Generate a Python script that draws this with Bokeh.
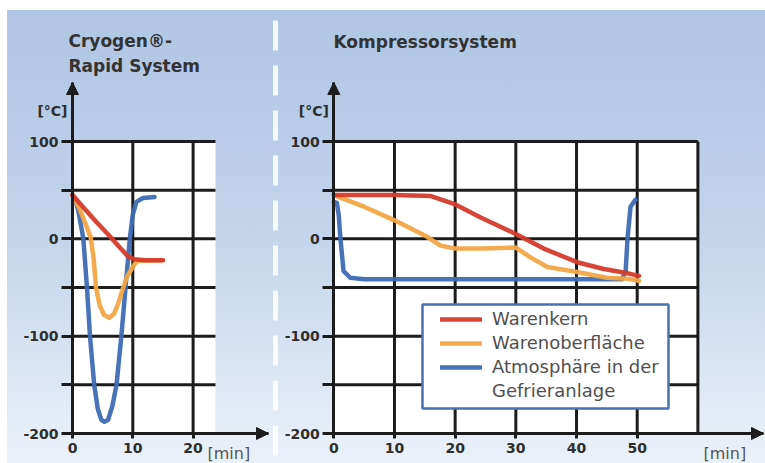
from bokeh.plotting import figure
from bokeh.layouts import row
from bokeh.models import (FixedTicker, Arrow, NormalHead, Label, Span, Legend, LegendItem,
                          BoxAnnotation)
from bokeh.embed import file_html
from bokeh.resources import INLINE

# ---------------- data ----------------
# Cryogen-Rapid System
cryo_kern_t = [0, 2, 4, 6, 8, 9.2, 10.3, 12, 15]
cryo_kern = [45, 31, 17, 4, -10, -18, -21, -22, -22]

cryo_ober_t = [0, 1, 2, 3, 3.5, 3.9, 4.5, 5.2, 6.1, 6.9, 7.6, 8.4, 9.1, 9.8, 10.4, 11, 15]
cryo_ober = [45, 33, 18, 2, -20, -50, -68, -78, -81, -77, -66, -50, -38, -31, -25, -22.5, -22]

cryo_atmo_t = [0, 0.5, 1.0, 1.4, 1.8, 2.4, 2.9, 3.6, 4.2, 4.8, 5.3, 5.9, 6.6, 7.3, 8.1, 8.8, 9.5, 10.0, 10.6, 11.7, 13.6]
cryo_atmo = [45, 40, 28, 14, 0, -50, -100, -150, -175, -186, -188, -186, -172, -150, -100, -50, 0, 25, 38, 42, 43]

# Kompressorsystem
komp_kern_t = [0, 10, 16, 19.8, 24.2, 30, 34.6, 40.1, 44.5, 47.8, 50.3]
komp_kern = [45, 45, 44, 36, 22, 5, -10, -24, -31, -34.5, -38]

komp_ober_t = [0, 5, 10, 15, 17.6, 20, 24.2, 30, 32.4, 35.2, 40.1, 45, 48.5, 50.3]
komp_ober = [45, 33, 19, 3.5, -7, -10, -10, -9, -19, -29, -34, -40, -41, -43]

komp_atmo_t = [0, 0.5, 0.8, 1.1, 1.6, 2.7, 5, 47.5, 48.1, 48.4, 48.9, 49.7]
komp_atmo = [38, 37, 25, 0, -33, -40, -41.5, -41.5, -33, 0, 33, 40]

# axis / grid values
cryo_x_ticks = [0, 10, 20]
cryo_x_grid = [10, 20]
komp_x_ticks = [0, 10, 20, 30, 40, 50]
komp_x_grid = [10, 20, 30, 40, 50, 60]
y_major = [-200, -100, 0, 100]
y_minor = [-150, -50, 50]
y_grid = [-200, -150, -100, -50, 0, 50, 100]

series_names = ["Warenkern", "Warenoberfläche", "Atmosphäre in der", "Gefrieranlage"]
titles_cryo = ["Cryogen®-", "Rapid System"]
title_komp = "Kompressorsystem"
unit_y = "[°C]"
unit_x = "[min]"

# ---------------- style / layout ----------------
FONT = "DejaVu Sans"
INK = "#1c1c1c"
TXT = "#2e2e2e"
RED = "#d63a2a"
ORANGE = "#f3a545"
BLUE = "#3d6cb4"
H = 463
AXIS_Y = 433          # screen row of the -200 line
PX_Y = 0.9733         # px per degree


def yd(sy):
    """screen row -> degrees"""
    return -200 + (AXIS_Y - sy) / PX_Y


class Panel:
    def __init__(self, left, width, axis_x, px_x):
        self.left, self.width, self.axis_x, self.px_x = left, width, axis_x, px_x

    def xd(self, sx):
        """screen column -> minutes"""
        return (sx - self.axis_x) / self.px_x


def panel(pn, x_ticks, x_grid, grid_end, arrow_tip_sx):
    p = figure(width=pn.width, height=H,
               x_range=(pn.xd(pn.left), pn.xd(pn.left + pn.width)),
               y_range=(yd(H), yd(0)),
               output_backend="svg", toolbar_location=None,
               min_border_left=0, min_border_right=0, min_border_top=0, min_border_bottom=0)
    p.border_fill_alpha = 0
    p.background_fill_alpha = 0
    p.outline_line_color = None
    p.xgrid.visible = False
    p.ygrid.visible = False

    # white chart area and grid
    p.quad(left=[x_ticks[0]], right=[grid_end], bottom=[y_grid[0]], top=[y_grid[-1]],
           fill_color="white", line_color=None)
    p.segment(x0=[x_ticks[0]] * len(y_grid), y0=y_grid, x1=[grid_end] * len(y_grid), y1=y_grid,
              line_color=INK, line_width=3)
    p.segment(x0=x_grid, y0=[y_grid[0]] * len(x_grid), x1=x_grid, y1=[y_grid[-1]] * len(x_grid),
              line_color=INK, line_width=3)

    tip_x = pn.xd(arrow_tip_sx)
    tip_y = yd(82)

    # y axis
    ya = p.yaxis[0]
    ya.fixed_location = 0
    ya.ticker = FixedTicker(ticks=y_major, minor_ticks=y_minor)
    ya.major_label_overrides = {v: str(v) for v in y_major}   # plain hyphen-minus
    ya.bounds = (y_grid[0], tip_y)
    ya.axis_line_width = 3
    ya.axis_line_color = INK
    ya.major_tick_out = 11
    ya.major_tick_in = 0
    ya.minor_tick_out = 11
    ya.minor_tick_in = 0
    ya.major_tick_line_width = 3
    ya.minor_tick_line_width = 3
    ya.major_tick_line_color = INK
    ya.minor_tick_line_color = INK
    ya.major_label_standoff = 3
    ya.major_label_text_font = FONT
    ya.major_label_text_font_style = "bold"
    ya.major_label_text_font_size = "14px"
    ya.major_label_text_color = TXT

    # x axis
    xa = p.xaxis[0]
    xa.fixed_location = y_grid[0]
    xa.ticker = FixedTicker(ticks=x_ticks)
    xa.bounds = (x_ticks[0], tip_x)
    xa.axis_line_width = 3
    xa.axis_line_color = INK
    xa.major_tick_out = 5
    xa.major_tick_in = 0
    xa.major_tick_line_width = 3
    xa.major_tick_line_color = INK
    xa.minor_tick_line_color = None
    xa.major_label_standoff = 4
    xa.major_label_text_font = FONT
    xa.major_label_text_font_style = "bold"
    xa.major_label_text_font_size = "14px"
    xa.major_label_text_color = TXT

    # arrow heads
    head = dict(size=12, fill_color=INK, line_color=INK)
    p.add_layout(Arrow(end=NormalHead(**head), x_start=0, y_start=tip_y - 12, x_end=0, y_end=tip_y,
                       line_color=INK, line_width=3))
    p.add_layout(Arrow(end=NormalHead(**head), x_start=tip_x - 2, y_start=y_grid[0], x_end=tip_x,
                       y_end=y_grid[0], line_color=INK, line_width=3))

    # unit label of the y axis
    p.add_layout(Label(x=0, y=yd(110), x_offset=-5, text=unit_y, text_align="right",
                       text_baseline="middle", text_font=FONT, text_font_style="bold",
                       text_font_size="14px", text_color=TXT))
    return p


P1 = Panel(left=0, width=280, axis_x=72, px_x=6.03)
P2 = Panel(left=280, width=485, axis_x=333.3, px_x=6.068)

p1 = panel(P1, cryo_x_ticks, cryo_x_grid, P1.xd(215), 268)
p2 = panel(P2, komp_x_ticks, komp_x_grid, komp_x_grid[-1], 763)

# x unit labels
for pp, pn, sx in [(p1, P1, 207), (p2, P2, 703)]:
    pp.add_layout(Label(x=pn.xd(sx), y=yd(453), text=unit_x, text_align="left",
                        text_baseline="middle", text_font=FONT, text_font_size="16px",
                        text_color="#555555"))

# titles
for txt, sy in zip(titles_cryo, [40.5, 65]):
    p1.add_layout(Label(x=P1.xd(68), y=yd(sy), text=txt, text_align="left",
                        text_baseline="alphabetic", text_font=FONT, text_font_style="bold",
                        text_font_size="17px", text_color="#333333"))
p2.add_layout(Label(x=P2.xd(333), y=yd(41.5), text=title_komp, text_align="left",
                    text_baseline="alphabetic", text_font=FONT, text_font_style="bold",
                    text_font_size="17px", text_color="#333333"))

# dashed white divider
p1.add_layout(Span(location=P1.xd(275), dimension="height", line_color="white", line_width=5,
                   line_alpha=0.85, line_dash="30 15", line_dash_offset=25))

# curves
kw = dict(line_width=4.5, line_alpha=0.95, line_cap="round", line_join="round")
p1.line(cryo_atmo_t, cryo_atmo, line_color=BLUE, **kw)
p1.line(cryo_ober_t, cryo_ober, line_color=ORANGE, **kw)
p1.line(cryo_kern_t, cryo_kern, line_color=RED, **kw)

r_atmo = p2.line(komp_atmo_t, komp_atmo, line_color=BLUE, **kw)
r_ober = p2.line(komp_ober_t, komp_ober, line_color=ORANGE, **kw)
r_kern = p2.line(komp_kern_t, komp_kern, line_color=RED, **kw)
r_none = p2.line([], [], line_alpha=0)

# legend frame + legend
p2.add_layout(BoxAnnotation(left=P2.xd(422), right=P2.xd(668), top=yd(304), bottom=yd(408),
                            fill_color="white", fill_alpha=1, line_color="#4a70b0",
                            line_width=2.5, line_alpha=1))
legend = Legend(items=[LegendItem(label=series_names[0], renderers=[r_kern]),
                       LegendItem(label=series_names[1], renderers=[r_ober]),
                       LegendItem(label=series_names[2], renderers=[r_atmo]),
                       LegendItem(label=series_names[3], renderers=[r_none])],
                location=(440 - P2.left, H - 401), padding=0, spacing=3, margin=0,
                glyph_width=42, glyph_height=20, label_height=20, label_standoff=10,
                label_text_font=FONT, label_text_font_size="18px", label_text_color="#505050",
                border_line_color=None, background_fill_alpha=0)
p2.add_layout(legend)

layout = row(p1, p2, spacing=0, styles={
    "background": "linear-gradient(to right, #ffffff 0px, #ffffff 7px, rgba(255,255,255,0) 7px), "
                  "linear-gradient(to bottom, #ffffff 0px, #ffffff 10px, #b1c6e4 10px, "
                  "#b8cbe7 120px, #c6d6ec 250px, #d9e4f2 360px, #ebf1f9 463px)"})

open("out.html", "w").write(file_html(layout, INLINE))
